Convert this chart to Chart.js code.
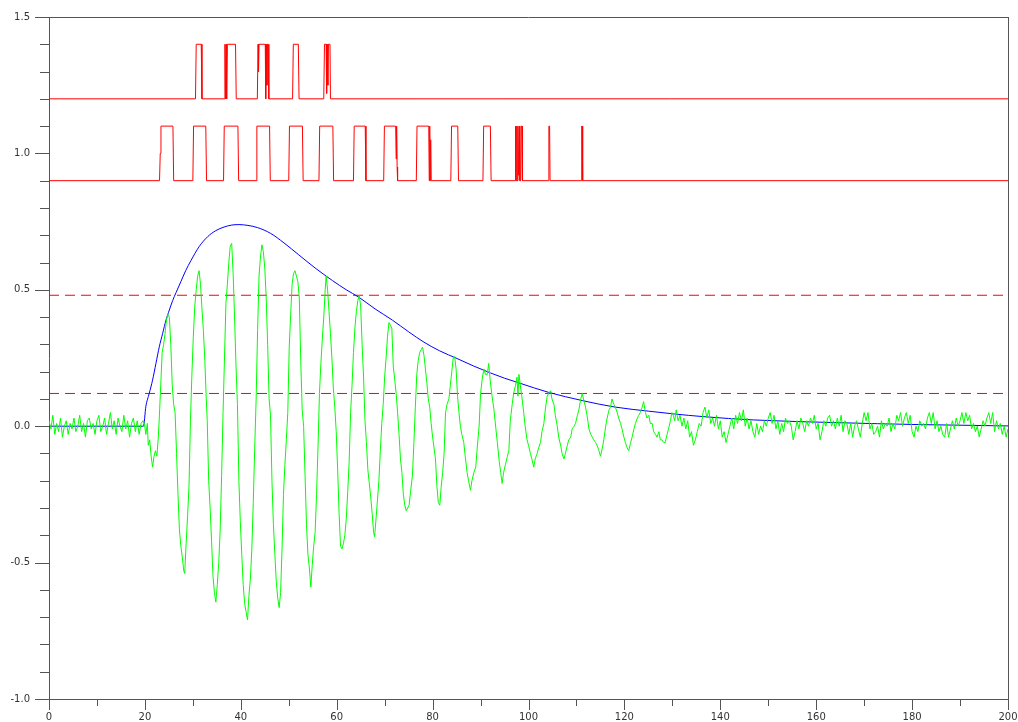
<!DOCTYPE html>
<html>
<head>
<meta charset="utf-8">
<script src="https://cdn.jsdelivr.net/npm/chart.js@4"></script>
<style>
  html, body { margin: 0; padding: 0; background: #ffffff; }
  #wrap { width: 1018px; height: 722px; }
</style>
</head>
<body>
<div id="wrap"><canvas id="chart" width="1018" height="722"></canvas></div>
<script>
// axis ranges and labelled ticks
const xRange = [0, 200];
const yRange = [-1.0, 1.5];
const xLabelStep = 20;
const yLabelStep = 0.5;

// green signal: noise before onset, sampled every 0.4 from t = 0
const noiseDt = 0.4;
const greenPre = [0.02, -0.01, 0.04, -0.03, 0.01, -0.02, 0.03, -0.04, 0.00, 0.02,
  -0.03, 0.01, -0.01, 0.03, -0.02, 0.00, 0.04, -0.02, 0.01, -0.04,
  0.02, 0.03, -0.01, 0.01, -0.03, 0.02, 0.04, -0.02, 0.00, 0.03,
  -0.03, 0.01, 0.05, -0.01, 0.02, -0.03, 0.03, 0.00, -0.02, 0.04,
  -0.01, 0.02, -0.04, 0.01, 0.03, -0.02, 0.02, -0.03, 0.01, 0.02];

// green signal: oscillating part (time, value)
const greenT = [19.9, 20.2, 20.5, 20.7, 21.0, 21.3, 21.6, 21.9, 22.2, 22.5, 22.8, 23.0, 23.3, 23.6, 23.9,
  24.2, 24.5, 24.8, 25.1, 25.4, 25.7, 26.0, 26.3, 26.6, 26.9, 27.2, 27.5, 27.8, 28.1, 28.3,
  28.6, 28.9, 29.2, 29.5, 29.8, 30.1, 30.4, 30.7, 31.0, 31.3, 31.6, 31.9, 32.2, 32.5, 32.8,
  33.0, 33.3, 33.6, 33.9, 34.2, 34.5, 34.8, 35.1, 35.4, 35.7, 36.0, 36.3, 36.6, 36.9, 37.2,
  37.5, 37.8, 38.1, 38.4, 38.7, 39.0, 39.3, 39.6, 39.9, 40.2, 40.5, 40.8, 41.1, 41.4, 41.7,
  42.0, 42.3, 42.6, 42.9, 43.2, 43.5, 43.8, 44.1, 44.4, 44.7, 45.0, 45.3, 45.6, 45.9, 46.2,
  46.5, 46.8, 47.1, 47.4, 47.7, 48.0, 48.3, 48.6, 48.9, 49.2, 49.5, 49.8, 50.1, 50.4, 50.7,
  51.0, 51.3, 51.6, 51.9, 52.2, 52.5, 52.8, 53.1, 53.4, 53.7, 54.0, 54.3, 54.6, 54.9, 55.2,
  55.5, 55.8, 56.1, 56.4, 56.7, 57.0, 57.3, 57.6, 57.8, 58.1, 58.4, 58.7, 59.0, 59.3, 59.6,
  59.9, 60.2, 60.5, 60.8, 61.1, 61.4, 61.7, 62.0, 62.3, 62.6, 62.9, 63.2, 63.5, 63.8, 64.1,
  64.4, 64.7, 65.0, 65.3, 65.6, 65.9, 66.2, 66.5, 66.8, 67.1, 67.4, 67.7, 67.9, 68.2, 68.5,
  68.8, 69.1, 69.4, 69.7, 70.0, 70.3, 70.6, 70.9, 71.2, 71.5, 71.8, 72.1, 72.4, 72.7, 73.0,
  73.3, 73.6, 73.9, 74.2, 74.5, 74.8, 75.1, 75.4, 75.8, 76.1, 76.4, 76.7, 77.0, 77.3, 77.6,
  77.9, 78.2, 78.5, 78.8, 79.1, 79.4, 79.7, 80.0, 80.3, 80.6, 80.9, 81.2, 81.5, 81.8, 82.1,
  82.4, 82.7, 83.0, 83.4, 83.7, 84.0, 84.3, 84.6, 84.9, 85.2, 85.5, 85.8, 86.1, 86.5, 86.8,
  87.2, 87.5, 87.9, 88.2, 88.6, 89.0, 89.3, 89.7, 90.0, 90.4, 90.7, 91.0, 91.4, 91.7, 92.0,
  92.4, 92.8, 93.2, 93.5, 93.9, 94.2, 94.5, 94.8, 95.2, 95.6, 95.9, 96.2, 96.6, 96.9, 97.3,
  97.6, 97.8, 98.0, 98.3, 98.6, 99.0, 99.3, 99.7, 100.0, 100.4, 100.7, 101.1, 101.4, 101.8, 102.1,
  102.5, 102.8, 103.2, 103.5, 103.9, 104.2, 104.6, 104.9, 105.3, 105.6, 106.0, 106.3, 106.7, 107.0, 107.4,
  107.7, 108.1, 108.4, 108.8, 109.1, 109.5, 109.8, 110.2, 110.5, 110.9, 111.2, 111.6, 111.9, 112.3, 112.6,
  113.0, 113.3, 113.6, 114.0, 114.3, 114.7, 115.0, 115.4, 115.7, 116.1, 116.4, 116.8, 117.1, 117.4, 117.8,
  118.1, 118.5, 118.8, 119.2, 119.5, 119.9, 120.2, 120.6, 120.9, 121.3, 121.6, 122.0, 122.3, 122.7, 123.0,
  123.3, 123.7, 124.0, 124.4, 124.7, 125.1, 125.4, 125.8, 126.1, 126.5, 126.8, 127.2, 127.5, 127.8, 128.2,
  128.5, 128.9, 129.2, 129.6, 129.9, 130.2, 130.5];
const greenV = [0.01, -0.03, 0.01, -0.07, -0.05, -0.11, -0.15, -0.11, -0.09, -0.11, -0.04, 0.03, 0.15, 0.27, 0.30,
  0.34, 0.39, 0.41, 0.40, 0.30, 0.15, 0.08, 0.05, -0.10, -0.25, -0.38, -0.44, -0.48, -0.53, -0.54,
  -0.43, -0.33, -0.22, 0.02, 0.19, 0.33, 0.44, 0.50, 0.55, 0.57, 0.52, 0.43, 0.35, 0.24, 0.10,
  0.02, -0.20, -0.30, -0.42, -0.55, -0.61, -0.645, -0.58, -0.50, -0.38, -0.18, 0.05, 0.25, 0.45, 0.52,
  0.60, 0.66, 0.67, 0.56, 0.40, 0.22, 0.08, -0.20, -0.35, -0.47, -0.58, -0.65, -0.68, -0.71, -0.62,
  -0.56, -0.45, -0.28, -0.08, 0.10, 0.35, 0.55, 0.62, 0.665, 0.64, 0.58, 0.47, 0.30, 0.10, 0.04,
  -0.20, -0.36, -0.47, -0.57, -0.63, -0.665, -0.61, -0.45, -0.25, -0.14, -0.05, 0.05, 0.29, 0.41, 0.52,
  0.56, 0.57, 0.55, 0.53, 0.47, 0.24, 0.06, 0.00, -0.18, -0.36, -0.47, -0.52, -0.59, -0.51, -0.44,
  -0.39, -0.25, -0.08, 0.12, 0.23, 0.32, 0.40, 0.50, 0.55, 0.50, 0.42, 0.34, 0.25, 0.14, 0.07,
  -0.02, -0.16, -0.32, -0.44, -0.45, -0.43, -0.40, -0.34, -0.24, -0.13, 0.05, 0.15, 0.27, 0.36, 0.42,
  0.46, 0.48, 0.44, 0.30, 0.18, 0.02, -0.06, -0.16, -0.21, -0.26, -0.32, -0.39, -0.405, -0.34, -0.27,
  -0.20, -0.09, 0.01, 0.08, 0.18, 0.25, 0.33, 0.38, 0.37, 0.36, 0.22, 0.17, 0.12, 0.05, -0.03,
  -0.12, -0.17, -0.25, -0.29, -0.31, -0.30, -0.29, -0.24, -0.18, -0.06, 0.07, 0.19, 0.24, 0.27, 0.28,
  0.29, 0.26, 0.21, 0.16, 0.10, 0.07, 0.01, -0.04, -0.08, -0.12, -0.22, -0.28, -0.29, -0.22, -0.17,
  -0.10, 0.05, 0.08, 0.10, 0.15, 0.20, 0.25, 0.255, 0.21, 0.11, 0.05, 0.00, -0.03, -0.06, -0.11,
  -0.17, -0.20, -0.235, -0.20, -0.17, -0.15, -0.08, 0.00, 0.12, 0.18, 0.21, 0.19, 0.19, 0.23, 0.17,
  0.11, 0.06, -0.01, -0.06, -0.13, -0.17, -0.21, -0.17, -0.14, -0.11, -0.09, 0.02, 0.08, 0.12, 0.15,
  0.18, 0.11, 0.19, 0.15, 0.11, 0.05, 0.00, -0.05, -0.07, -0.10, -0.12, -0.15, -0.12, -0.10, -0.08,
  -0.06, -0.02, 0.01, 0.06, 0.11, 0.12, 0.13, 0.10, 0.08, 0.04, 0.00, -0.04, -0.07, -0.10, -0.12,
  -0.10, -0.07, -0.05, -0.04, -0.01, 0.00, 0.01, 0.04, 0.06, 0.10, 0.12, 0.09, 0.07, 0.03, -0.01,
  -0.03, -0.04, -0.05, -0.06, -0.07, -0.09, -0.11, -0.08, -0.05, 0.00, 0.03, 0.06, 0.07, 0.10, 0.08,
  0.07, 0.05, 0.03, 0.01, -0.01, -0.04, -0.06, -0.08, -0.09, -0.06, -0.04, -0.01, 0.01, 0.03, 0.04,
  0.05, 0.07, 0.09, 0.05, 0.03, 0.04, 0.01, 0.01, -0.02, -0.03, -0.04, -0.02, -0.05, -0.05, -0.06,
  -0.06, -0.03, -0.01, 0.02, 0.05, 0.04, 0.02];

// green signal: tail noise, sampled every 0.4 from t = 130.8
const greenPostStart = 130.8;
const greenPost = [0.06, 0.02, 0.04, 0.00, 0.03, -0.01, 0.02, -0.04, -0.02, -0.07,
  -0.05, -0.02, 0.01, 0.00, 0.05, 0.07, 0.03, 0.06, 0.01, 0.03,
  0.00, 0.04, -0.01, 0.02, -0.04, -0.02, -0.06, -0.03, 0.00, 0.03,
  -0.01, 0.04, 0.01, 0.05, 0.02, 0.06, 0.00, 0.03, -0.01, 0.02,
  -0.02, -0.04, 0.01, -0.03, 0.00, -0.02, 0.02, 0.00, 0.03, 0.05,
  0.01, 0.04, -0.01, 0.02, -0.03, 0.01, -0.02, 0.03, 0.01, 0.02,
  0.00, -0.05, -0.02, 0.02, -0.01, 0.03, 0.01, -0.02, 0.02, 0.00,
  0.03, 0.01, 0.04, -0.01, 0.01, -0.05, -0.02, 0.02, 0.00, 0.03,
  0.04, 0.00, 0.02, -0.01, 0.03, 0.00, 0.04, -0.02, 0.02, 0.01,
  -0.03, 0.01, -0.04, 0.00, 0.02, -0.01, -0.04, 0.01, 0.05, 0.02,
  0.05, -0.01, 0.01, -0.03, -0.02, 0.00, -0.04, 0.02, -0.01, 0.01,
  0.00, 0.03, -0.02, 0.01, -0.01, 0.04, 0.02, 0.05, 0.00, 0.03,
  0.05, 0.01, 0.04, -0.02, -0.04, 0.00, -0.02, 0.02, 0.00, 0.01,
  -0.01, 0.03, 0.05, 0.01, 0.05, -0.01, 0.02, -0.02, 0.00, -0.03,
  -0.04, 0.01, -0.04, -0.01, 0.02, -0.01, 0.03, 0.00, 0.02, 0.05,
  0.01, 0.05, 0.02, 0.04, -0.01, 0.01, -0.02, 0.00, -0.04, -0.01,
  0.02, 0.00, 0.03, 0.05, 0.01, 0.05, -0.02, 0.02, -0.01, 0.01,
  -0.03, 0.00, -0.04, -0.01];

// blue envelope
const blueT = [0, 19.7, 20.2, 20.9, 21.6, 22.3, 23.0, 23.7, 24.4, 25.1, 25.8, 26.5, 27.5, 28.5, 29.6,
  31.3, 33.1, 34.8, 36.5, 38.0, 39.6, 41.5, 43.5, 46.2, 49.0, 52.1, 55.5, 59.1, 62.0, 64.6,
  68.0, 71.6, 75.0, 78.2, 81.5, 85.1, 88.5, 92.1, 95.0, 98.3, 104.2, 111.2, 118.1, 125.1, 130.3,
  136.5, 146.9, 164.3, 181.3, 200];
const blueV = [0, 0, 0.072, 0.12, 0.169, 0.23, 0.291, 0.34, 0.389, 0.426, 0.461, 0.49, 0.53, 0.57, 0.607,
  0.658, 0.695, 0.717, 0.73, 0.737, 0.739, 0.736, 0.728, 0.707, 0.672, 0.628, 0.58, 0.534, 0.5, 0.473,
  0.43, 0.389, 0.346, 0.308, 0.276, 0.248, 0.221, 0.195, 0.176, 0.157, 0.124, 0.094, 0.07, 0.055, 0.045,
  0.035, 0.023, 0.013, 0.006, 0.001];

// upper red pulse train (levels 1.2 / 1.4)
const redTopT = [0, 30.55, 30.7, 31.75, 31.9, 36.6, 36.7, 36.8, 36.95, 37.05, 37.2, 38.9, 39.05,
  43.45, 43.6, 43.7, 43.8, 45.1, 45.2, 45.3, 45.45, 45.55, 45.7, 45.85,
  50.8, 50.95, 52.0, 52.15, 57.3, 57.45, 57.8, 57.9, 58.0, 58.15, 58.25, 58.6, 58.7, 200];
const redTopV = [1.2, 1.2, 1.4, 1.4, 1.2, 1.2, 1.4, 1.2, 1.4, 1.2, 1.4, 1.4, 1.2,
  1.2, 1.4, 1.3, 1.4, 1.4, 1.2, 1.4, 1.25, 1.4, 1.4, 1.2,
  1.2, 1.4, 1.4, 1.2, 1.2, 1.4, 1.4, 1.22, 1.4, 1.25, 1.4, 1.4, 1.2, 1.2];

// lower red pulse train (levels 0.9 / 1.1)
const redLowT = [0, 23.05, 23.2, 23.35, 25.85, 26.0, 30.0, 30.15, 32.7, 32.85, 36.4, 36.55, 39.4, 39.55,
  43.2, 43.35, 46.0, 46.15, 50.0, 50.15, 52.85, 53.0, 56.3, 56.45, 59.2, 59.35, 63.5, 63.65, 65.95, 66.1,
  69.8, 69.95, 72.3, 72.4, 72.5, 72.6, 72.7, 76.6, 76.75, 79.2, 79.3, 79.4, 79.5, 79.6, 79.7,
  83.8, 83.95, 85.25, 85.4, 90.5, 90.65, 92.05, 92.2,
  97.2, 97.3, 97.4, 97.55, 97.65, 97.8, 97.9, 98.1, 98.2, 98.4, 98.5, 98.65, 98.75,
  104.15, 104.25, 104.4, 104.5, 111.0, 111.1, 111.2, 111.3, 200];
const redLowV = [0.9, 0.9, 1.0, 1.1, 1.1, 0.9, 0.9, 1.1, 1.1, 0.9, 0.9, 1.1, 1.1, 0.9,
  0.9, 1.1, 1.1, 0.9, 0.9, 1.1, 1.1, 0.9, 0.9, 1.1, 1.1, 0.9, 0.9, 1.1, 1.1, 0.9,
  0.9, 1.1, 1.1, 0.98, 1.1, 0.95, 0.9, 0.9, 1.1, 1.1, 0.9, 1.1, 0.9, 1.05, 0.9,
  0.9, 1.1, 1.1, 0.9, 0.9, 1.1, 1.1, 0.9,
  0.9, 1.1, 0.9, 1.1, 0.9, 1.1, 0.92, 1.1, 0.9, 0.9, 1.1, 1.1, 0.9,
  0.9, 1.1, 1.1, 0.9, 0.9, 1.1, 1.1, 0.9, 0.9];

// dashed threshold levels
const thresholds = [0.48, 0.12];

function pairs(ts, vs) {
  return ts.map((t, i) => ({ x: t, y: vs[i] }));
}

function greenPoints() {
  const pts = greenPre.map((v, i) => ({ x: +(i * noiseDt).toFixed(2), y: v }));
  pts.push(...pairs(greenT, greenV));
  greenPost.forEach((v, i) => pts.push({ x: +(greenPostStart + i * noiseDt).toFixed(2), y: v }));
  return pts;
}

function isLabelled(v, step) {
  return Math.abs(v / step - Math.round(v / step)) < 1e-6;
}

// no automatic label padding, so the plot box sits where the layout padding says
function noScalePadding(s) {
  s.paddingLeft = 0;
  s.paddingRight = 0;
  s.paddingTop = 0;
  s.paddingBottom = 0;
}

// tick marks: long at labelled values, short elsewhere, plus the top/right frame
const frameAndTicks = {
  id: 'frameAndTicks',
  afterDraw(chart) {
    const ctx = chart.ctx;
    const area = chart.chartArea;
    const xs = chart.scales.x;
    const ys = chart.scales.y;
    ctx.save();
    ctx.strokeStyle = '#555555';
    ctx.lineWidth = 1;
    ctx.beginPath();
    ys.ticks.forEach(t => {
      const py = Math.round(ys.getPixelForValue(t.value)) + 0.5;
      const len = isLabelled(t.value, yLabelStep) ? 14 : 9;
      ctx.moveTo(area.left - len, py);
      ctx.lineTo(area.left, py);
    });
    xs.ticks.forEach(t => {
      const px = Math.round(xs.getPixelForValue(t.value)) + 0.5;
      const len = isLabelled(t.value, xLabelStep) ? 11 : 7;
      ctx.moveTo(px, area.bottom);
      ctx.lineTo(px, area.bottom + len);
    });
    ctx.moveTo(area.left, Math.round(area.top) + 0.5);
    ctx.lineTo(area.right, Math.round(area.top) + 0.5);
    ctx.moveTo(Math.round(area.right) + 0.5, area.top);
    ctx.lineTo(Math.round(area.right) + 0.5, area.bottom);
    ctx.stroke();
    ctx.restore();
  }
};

const lineStyle = { pointRadius: 0, borderWidth: 1, fill: false, tension: 0 };

new Chart(document.getElementById('chart'), {
  type: 'line',
  data: {
    datasets: [
      Object.assign({ data: greenPoints(), borderColor: '#00ff00' }, lineStyle),
      Object.assign({ data: pairs(blueT, blueV), borderColor: '#0000ff' }, lineStyle, { cubicInterpolationMode: 'monotone' }),
      Object.assign({ data: pairs(redTopT, redTopV), borderColor: '#ff0000' }, lineStyle),
      Object.assign({ data: pairs(redLowT, redLowV), borderColor: '#ff0000' }, lineStyle),
      ...thresholds.map(v => Object.assign({
        data: [{ x: xRange[0], y: v }, { x: xRange[1], y: v }],
        borderColor: '#ff0000',
        borderDash: [10, 6]
      }, lineStyle))
    ]
  },
  options: {
    responsive: false,
    animation: false,
    devicePixelRatio: 1,
    layout: { padding: { top: 17, right: 10, left: 0, bottom: 0 } },
    plugins: { legend: { display: false }, tooltip: { enabled: false } },
    scales: {
      x: {
        type: 'linear',
        min: xRange[0],
        max: xRange[1],
        afterFit: s => { s.height = 23; noScalePadding(s); },
        grid: { display: false, drawTicks: false },
        border: { display: true, color: '#555555' },
        ticks: {
          stepSize: 10,
          autoSkip: false,
          maxRotation: 0,
          padding: 12,
          color: '#333333',
          font: { family: 'DejaVu Sans', size: 10 },
          callback: v => isLabelled(v, xLabelStep) ? String(Math.round(v)) : ''
        }
      },
      y: {
        type: 'linear',
        min: yRange[0],
        max: yRange[1],
        afterFit: s => { s.width = 49; noScalePadding(s); },
        grid: { display: false, drawTicks: false },
        border: { display: true, color: '#555555' },
        ticks: {
          stepSize: 0.1,
          autoSkip: false,
          padding: 19,
          color: '#333333',
          font: { family: 'DejaVu Sans', size: 10 },
          callback: v => isLabelled(v, yLabelStep) ? v.toFixed(1) : ''
        }
      }
    }
  },
  plugins: [frameAndTicks]
});
</script>
</body>
</html>
